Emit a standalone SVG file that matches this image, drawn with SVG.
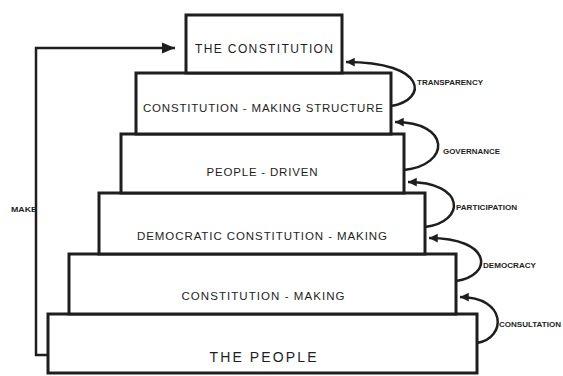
<svg xmlns="http://www.w3.org/2000/svg" width="563" height="376" viewBox="0 0 563 376">
<style>
.box{fill:#fff;stroke:#1e1e1e;stroke-width:3}
.t{font-family:"Liberation Sans",Arial,sans-serif;fill:#1e1e1e;text-anchor:middle}
.s{font-family:"Liberation Sans",Arial,sans-serif;fill:#1e1e1e;font-size:6.5px;font-weight:bold}
.c{fill:none;stroke:#1e1e1e;stroke-width:2.5}
</style>
<defs>
<marker id="ah" markerUnits="userSpaceOnUse" markerWidth="10" markerHeight="10" refX="7" refY="4" orient="auto" viewBox="0 0 8 8">
<path d="M0,0.5 L7,4 L0,7.5 Z" fill="#1e1e1e"/>
</marker>
<marker id="big" markerUnits="userSpaceOnUse" markerWidth="14" markerHeight="12" refX="13" refY="6" orient="auto" viewBox="0 0 14 12">
<path d="M0,0.5 L13,6 L0,11.5 Z" fill="#1e1e1e"/>
</marker>
</defs>
<rect width="563" height="376" fill="#fff"/>
<g id="connectors">
<path class="c" d="M48,355 H36 V48 H175" marker-end="url(#big)"/>
<path class="c" d="M391,106 C428,100 428,62 346,62" marker-end="url(#ah)"/>
<path class="c" d="M404,170 C451,165 451,122 395,122" marker-end="url(#ah)"/>
<path class="c" d="M425,227 C466,222 466,182 408,182" marker-end="url(#ah)"/>
<path class="c" d="M456,281 C493,276 493,238 429,238" marker-end="url(#ah)"/>
<path class="c" d="M477,343 C507,338 507,297 460,297" marker-end="url(#ah)"/>
<text class="s" x="417" y="84.5" textLength="66" lengthAdjust="spacingAndGlyphs">TRANSPARENCY</text>
<text class="s" x="443" y="153.5" textLength="57" lengthAdjust="spacingAndGlyphs">GOVERNANCE</text>
<text class="s" x="456" y="209.5" textLength="61" lengthAdjust="spacingAndGlyphs">PARTICIPATION</text>
<text class="s" x="483" y="267.5" textLength="53" lengthAdjust="spacingAndGlyphs">DEMOCRACY</text>
<text class="s" x="499" y="326.5" textLength="62" lengthAdjust="spacingAndGlyphs">CONSULTATION</text>
<text class="s" x="11" y="211.5" textLength="26" lengthAdjust="spacingAndGlyphs">MAKE</text>
</g>
<g id="people">
<rect class="box" x="48" y="314" width="429" height="59"/>
<text class="t" x="263" y="362" font-size="14" textLength="107" lengthAdjust="spacing">THE PEOPLE</text>
</g>
<g id="constitution-making">
<rect class="box" x="69" y="254" width="387" height="60"/>
<text class="t" x="263" y="300" font-size="11.5" textLength="163" lengthAdjust="spacing">CONSTITUTION - MAKING</text>
</g>
<g id="democratic">
<rect class="box" x="99" y="193" width="326" height="61"/>
<text class="t" x="262" y="240" font-size="11.5" textLength="250" lengthAdjust="spacing">DEMOCRATIC CONSTITUTION - MAKING</text>
</g>
<g id="people-driven">
<rect class="box" x="121" y="134" width="283" height="59"/>
<text class="t" x="262" y="175.5" font-size="11.5" textLength="111" lengthAdjust="spacing">PEOPLE - DRIVEN</text>
</g>
<g id="structure">
<rect class="box" x="136" y="73" width="255" height="61"/>
<text class="t" x="263" y="112" font-size="11.5" textLength="240" lengthAdjust="spacing">CONSTITUTION - MAKING STRUCTURE</text>
</g>
<g id="constitution">
<rect class="box" x="186" y="15" width="156" height="58"/>
<text class="t" x="264" y="53" font-size="12" textLength="138" lengthAdjust="spacing">THE CONSTITUTION</text>
</g>
</svg>
